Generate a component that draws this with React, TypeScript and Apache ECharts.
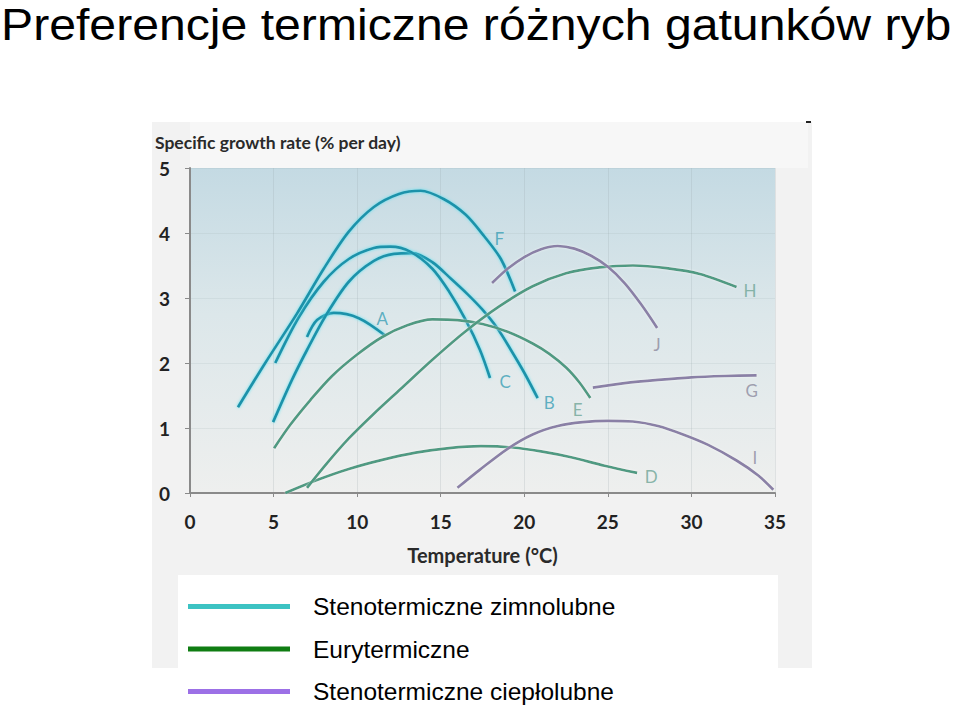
import React, { useEffect, useRef } from "react";
import * as echarts from "echarts";

const TITLE = "Preferencje termiczne różnych gatunków ryb";
const Y_NAME = "Specific growth rate (% per day)";
const X_NAME = "Temperature (°C)";
const GROUPS = ["Stenotermiczne zimnolubne", "Eurytermiczne", "Stenotermiczne ciepłolubne"];
const CURVE_COLORS = ["#1f92aa", "#4f9a82", "#8a80a6"];
const LABEL_COLORS = ["#3a9fb6", "#6ea596", "#8c8a9e"];
const LEGEND_COLORS = ["#3cc3c3", "#0f7d12", "#9c70e6"];

// x: temperature (°C), y: specific growth rate (% per day)
const curveA: [number, number][] = [[7.0, 2.4], [7.6, 2.66], [8.6, 2.77], [10.1, 2.69], [11.7, 2.42]];
const curveB: [number, number][] = [[4.97, 1.09], [6.1, 1.74], [7.0, 2.2], [8.1, 2.72], [9.5, 3.25], [11.0, 3.57], [12.2, 3.68], [13.3, 3.69], [14.5, 3.55], [15.6, 3.3], [16.6, 3.06], [17.5, 2.82], [18.4, 2.53], [19.2, 2.2], [20.0, 1.85], [20.8, 1.46]];
const curveC: [number, number][] = [[5.1, 2.0], [6.5, 2.7], [8.0, 3.25], [9.5, 3.6], [11.0, 3.77], [12.0, 3.79], [13.2, 3.71], [14.5, 3.45], [15.5, 3.1], [16.5, 2.66], [17.35, 2.2], [17.95, 1.77]];
const curveD: [number, number][] = [[5.7, 0.0], [7.6, 0.2], [9.5, 0.37], [11.5, 0.51], [13.5, 0.62], [15.5, 0.69], [17.4, 0.72], [19.3, 0.7], [21.0, 0.64], [22.8, 0.55], [24.8, 0.42], [26.75, 0.31]];
const curveE: [number, number][] = [[5.03, 0.69], [6.0, 1.05], [7.2, 1.43], [8.5, 1.8], [10.0, 2.13], [11.5, 2.4], [13.0, 2.58], [14.5, 2.67], [16.0, 2.66], [17.5, 2.6], [19.0, 2.48], [20.5, 2.3], [21.5, 2.14], [22.5, 1.93], [23.3, 1.7], [23.95, 1.46]];
const curveF: [number, number][] = [[2.87, 1.32], [4.5, 2.0], [6.4, 2.76], [8.0, 3.45], [9.5, 4.02], [11.0, 4.4], [12.5, 4.6], [13.8, 4.65], [15.2, 4.52], [16.5, 4.28], [17.6, 3.95], [18.6, 3.6], [19.45, 3.1]];
const curveG: [number, number][] = [[24.1, 1.62], [26.0, 1.69], [28.0, 1.74], [30.0, 1.78], [32.0, 1.8], [33.9, 1.81]];
const curveH: [number, number][] = [[7.0, 0.08], [8.2, 0.46], [9.5, 0.84], [11.0, 1.22], [12.6, 1.6], [14.5, 2.05], [16.4, 2.47], [18.5, 2.87], [20.5, 3.18], [22.5, 3.38], [24.5, 3.47], [26.5, 3.5], [28.5, 3.46], [30.5, 3.37], [32.7, 3.17]];
const curveI: [number, number][] = [[16.0, 0.08], [17.35, 0.36], [19.0, 0.68], [20.5, 0.9], [22.0, 1.03], [23.5, 1.09], [25.0, 1.11], [26.5, 1.1], [28.0, 1.03], [29.5, 0.9], [31.0, 0.74], [32.7, 0.5], [34.0, 0.27], [34.9, 0.05]];
const curveJ: [number, number][] = [[18.07, 3.23], [19.0, 3.45], [20.0, 3.63], [21.0, 3.75], [22.0, 3.8], [23.0, 3.76], [24.0, 3.65], [25.0, 3.48], [26.0, 3.23], [27.0, 2.9], [27.95, 2.54]];

const CURVES = [
  { id: "A", group: 0, pts: curveA },
  { id: "B", group: 0, pts: curveB },
  { id: "C", group: 0, pts: curveC },
  { id: "F", group: 0, pts: curveF },
  { id: "D", group: 1, pts: curveD },
  { id: "E", group: 1, pts: curveE },
  { id: "H", group: 1, pts: curveH },
  { id: "G", group: 2, pts: curveG },
  { id: "I", group: 2, pts: curveI },
  { id: "J", group: 2, pts: curveJ },
];

const labelNames = ["A", "B", "C", "D", "E", "F", "G", "H", "I", "J"];
const labelGroup = [0, 0, 0, 1, 1, 0, 2, 1, 2, 2];
const labelX = [11.5, 21.5, 18.85, 27.6, 23.2, 18.5, 33.6, 33.5, 33.8, 27.95];
const labelY = [2.69, 1.4, 1.71, 0.26, 1.28, 3.92, 1.58, 3.12, 0.55, 2.28];

const X_TICKS = [0, 35, 5];
const Y_TICKS = [0, 5, 1];

export default function App() {
  const ref = useRef<HTMLDivElement>(null);
  useEffect(() => {
    if (!ref.current) return;
    const chart = echarts.init(ref.current, null, { renderer: "svg" });
    const tickFont = { fontFamily: "Lato", fontWeight: "bold" as const, fontSize: 19, color: "#222" };
    const series: any[] = CURVES.map((c) => ({
      type: "line",
      name: GROUPS[c.group],
      data: c.pts,
      smooth: 0.3,
      showSymbol: false,
      silent: true,
      z: 3,
      itemStyle: { color: CURVE_COLORS[c.group] },
      lineStyle: {
        color: CURVE_COLORS[c.group],
        width: 2.7,
        shadowColor: c.group === 0 ? "rgba(90,225,240,0.95)" : "rgba(255,255,255,0.6)",
        shadowBlur: c.group === 0 ? 3 : 2,
      },
    }));
    series.push({
      type: "scatter",
      name: "labels",
      symbolSize: 0,
      silent: true,
      z: 4,
      data: labelNames.map((n, i) => ({
        value: [labelX[i], labelY[i]],
        label: {
          show: true,
          position: "inside",
          formatter: n,
          color: LABEL_COLORS[labelGroup[i]],
          fontFamily: "Lato",
          fontSize: 17,
        },
      })),
    });
    chart.setOption({
      animation: false,
      backgroundColor: "#ffffff",
      grid: {
        left: 190,
        top: 168,
        width: 585,
        height: 325,
        show: true,
        borderWidth: 0,
        backgroundColor: new echarts.graphic.LinearGradient(0, 0, 0, 1, [
          { offset: 0, color: "#c4dae3" },
          { offset: 0.45, color: "#dce7ea" },
          { offset: 1, color: "#eeefee" },
        ]),
      },
      xAxis: {
        type: "value",
        min: X_TICKS[0],
        max: X_TICKS[1],
        interval: X_TICKS[2],
        name: X_NAME,
        nameLocation: "middle",
        nameGap: 52,
        nameTextStyle: { fontFamily: "Lato", fontWeight: "bold", fontSize: 20, color: "#2a2a2a" },
        axisLine: { show: true, lineStyle: { color: "#8a8a8a", width: 2 } },
        axisTick: { show: true, length: 4, lineStyle: { color: "#8a8a8a" } },
        axisLabel: { ...tickFont, margin: 19 },
        splitLine: { show: true, lineStyle: { color: "rgba(150,165,170,0.22)", width: 1 } },
      },
      yAxis: {
        type: "value",
        min: Y_TICKS[0],
        max: Y_TICKS[1],
        interval: Y_TICKS[2],
        axisLine: { show: true, lineStyle: { color: "#8a8a8a", width: 2 } },
        axisTick: { show: true, length: 5, lineStyle: { color: "#8a8a8a" } },
        axisLabel: { ...tickFont, margin: 20 },
        splitLine: { show: true, lineStyle: { color: "rgba(150,165,170,0.15)", width: 1 } },
      },
      legend: {
        orient: "vertical",
        left: 188,
        top: 594,
        height: 111,
        padding: 0,
        itemWidth: 102,
        itemHeight: 5,
        itemGap: 17.5,
        icon: "rect",
        selectedMode: false,
        textStyle: {
          fontFamily: "Liberation Sans, Arial, sans-serif",
          fontSize: 24.5,
          lineHeight: 25,
          color: "#000",
          padding: [0, 0, 0, 18],
        },
        data: GROUPS.map((g, i) => ({ name: g, itemStyle: { color: LEGEND_COLORS[i] } })),
      },
      graphic: [
        { type: "rect", z: -20, silent: true, shape: { x: 152, y: 122, width: 660, height: 546 }, style: { fill: "#f2f2f2" } },
        { type: "rect", z: -19, silent: true, shape: { x: 190, y: 122, width: 618, height: 46 }, style: { fill: "#f7f7f7" } },
        { type: "rect", z: -18, silent: true, shape: { x: 178, y: 575, width: 600, height: 130 }, style: { fill: "#ffffff" } },
        { type: "rect", z: -17, silent: true, shape: { x: 806, y: 121, width: 5, height: 2 }, style: { fill: "#222" } },
        {
          type: "text",
          z: 10,
          x: 1,
          y: 25,
          scaleX: 1.095,
          style: {
            text: TITLE,
            fontFamily: "Liberation Sans, Arial, sans-serif",
            fontSize: 44,
            lineHeight: 44,
            fill: "#000",
            verticalAlign: "middle",
          },
        },
        {
          type: "text",
          z: 10,
          x: 155,
          y: 142,
          style: {
            text: Y_NAME,
            fontFamily: "Lato",
            fontWeight: "bold",
            fontSize: 17.5,
            fill: "#2a2a2a",
            verticalAlign: "middle",
          },
        },
      ],
      series,
    });
    return () => chart.dispose();
  }, []);
  return <div ref={ref} style={{ position: "absolute", left: 0, top: 0, width: 960, height: 705 }} />;
}
